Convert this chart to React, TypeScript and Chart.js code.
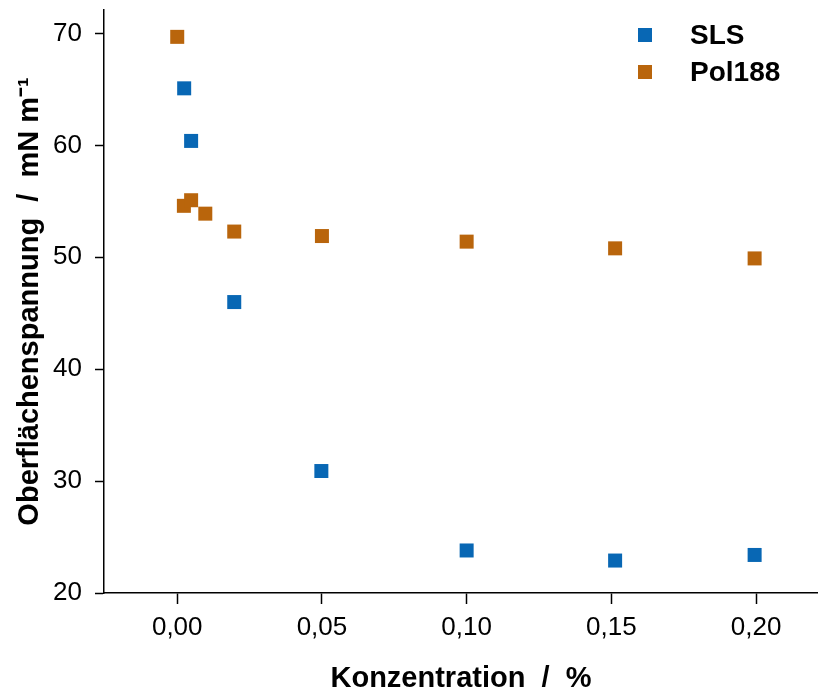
import React, { useEffect, useRef } from 'react';
import { Chart, registerables } from 'chart.js';

Chart.register(...registerables);

const xTickValues = [0, 0.05, 0.1, 0.15, 0.2];
const yTickValues = [20, 30, 40, 50, 60, 70];

const seriesNames = ['SLS', 'Pol188'];
const seriesColors = ['#0867b4', '#b9650c'];

const slsX = [0.0024, 0.0048, 0.0197, 0.0498, 0.1, 0.1513, 0.1995];
const slsY = [65.1, 60.4, 46.0, 30.9, 23.8, 22.9, 23.4];

const polX = [0.0, 0.0023, 0.0048, 0.0097, 0.0197, 0.05, 0.1, 0.1513, 0.1995];
const polY = [69.7, 54.6, 55.1, 53.9, 52.3, 51.9, 51.4, 50.8, 49.9];

const xTitle = 'Konzentration  /  %';
const yTitle = 'Oberflächenspannung  /  mN m⁻¹';

const FONT = '"Liberation Sans", Arial, sans-serif';

export default function App() {
  const ref = useRef<HTMLCanvasElement | null>(null);

  useEffect(() => {
    document.body.style.margin = '0';
    const canvas = ref.current;
    if (!canvas) return;

    const bgPlugin = {
      id: 'bg',
      beforeDraw(chart: any) {
        const ctx = chart.ctx;
        ctx.save();
        ctx.fillStyle = '#ffffff';
        ctx.fillRect(0, 0, chart.width, chart.height);
        ctx.restore();
      },
    };

    const legendPlugin = {
      id: 'innerLegend',
      afterDraw(chart: any) {
        const ctx = chart.ctx;
        ctx.save();
        chart.data.datasets.forEach((ds: any, i: number) => {
          const cy = 35 + i * 37;
          ctx.fillStyle = ds.backgroundColor;
          ctx.fillRect(638, cy - 7, 14, 14);
          ctx.fillStyle = '#000';
          ctx.font = `bold 28px ${FONT}`;
          ctx.textBaseline = 'middle';
          ctx.textAlign = 'left';
          ctx.fillText(ds.label, 690, cy + 1);
        });
        ctx.restore();
      },
    };

    const chart = new Chart(canvas, {
      type: 'scatter',
      data: {
        datasets: [
          {
            label: seriesNames[0],
            data: slsX.map((x, i) => ({ x, y: slsY[i] })),
            backgroundColor: seriesColors[0],
            borderColor: seriesColors[0],
            pointStyle: 'rect',
            pointRadius: 9.9,
            borderWidth: 0,
          },
          {
            label: seriesNames[1],
            data: polX.map((x, i) => ({ x, y: polY[i] })),
            backgroundColor: seriesColors[1],
            borderColor: seriesColors[1],
            pointStyle: 'rect',
            pointRadius: 9.9,
            borderWidth: 0,
          },
        ],
      },
      options: {
        responsive: false,
        animation: false,
        layout: { autoPadding: false, padding: { top: 10, right: 0, left: 0, bottom: 0 } },
        plugins: {
          legend: { display: false },
          tooltip: { enabled: false },
        },
        scales: {
          x: {
            type: 'linear',
            min: -0.0253,
            max: 0.2214,
            afterBuildTicks: (s: any) => {
              s.ticks = xTickValues.map((v) => ({ value: v }));
            },
            afterFit: (s: any) => {
              s.height = 98;
              s.paddingLeft = 0;
              s.paddingRight = 0;
            },
            ticks: {
              callback: (v: any) => Number(v).toFixed(2).replace('.', ','),
              font: { family: FONT, size: 26 },
              color: '#000',
              padding: 8,
              maxRotation: 0,
              autoSkip: false,
            },
            grid: {
              display: true,
              drawOnChartArea: false,
              drawTicks: true,
              tickLength: 11,
              tickColor: '#000',
              tickWidth: 1.5,
            },
            border: { display: true, color: '#000', width: 1.5 },
            title: {
              display: true,
              text: xTitle,
              font: { family: FONT, size: 29, weight: 'bold', lineHeight: 1 },
              color: '#000',
              padding: { top: 0, bottom: -2 },
            },
          },
          y: {
            type: 'linear',
            min: 20,
            max: 72.1,
            afterBuildTicks: (s: any) => {
              s.ticks = yTickValues.map((v) => ({ value: v }));
            },
            afterFit: (s: any) => {
              s.width = 104;
              s.paddingTop = 0;
              s.paddingBottom = 0;
            },
            ticks: {
              callback: (v: any) => String(v),
              font: { family: FONT, size: 26 },
              color: '#000',
              padding: 13,
              autoSkip: false,
            },
            grid: {
              display: true,
              drawOnChartArea: false,
              drawTicks: true,
              tickLength: 9,
              tickColor: '#000',
              tickWidth: 1.5,
            },
            border: { display: true, color: '#000', width: 1.5 },
            title: {
              display: true,
              text: yTitle,
              font: { family: FONT, size: 29, weight: 'bold', lineHeight: 1 },
              color: '#000',
              padding: { top: 15, bottom: 0 },
            },
          },
        },
      },
      plugins: [bgPlugin, legendPlugin],
    });

    return () => chart.destroy();
  }, []);

  return (
    <div style={{ width: 818, height: 691 }}>
      <canvas ref={ref} width={818} height={691} style={{ display: 'block', width: 818, height: 691 }} />
    </div>
  );
}
